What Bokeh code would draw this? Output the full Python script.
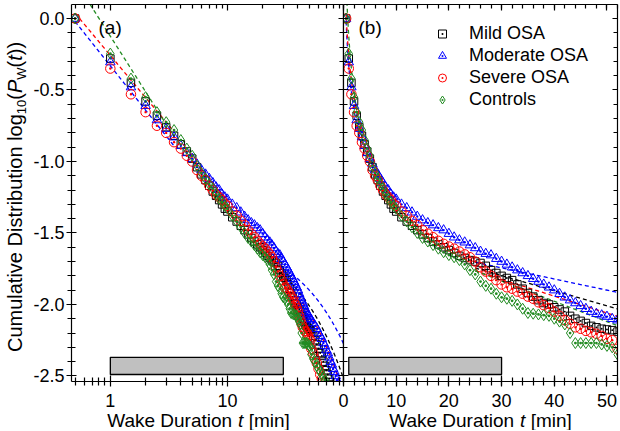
import numpy as np
from bokeh.plotting import figure
from bokeh.layouts import row, column
from bokeh.models import (Range1d, FixedTicker, LinearAxis, LogAxis, PrintfTickFormatter,
                          CustomJSTickFormatter, Label, Legend, LegendItem)
from bokeh.embed import file_html
from bokeh.resources import INLINE

FONT = "Liberation Sans"

# ---------------- data ----------------
t_common = [0.5, 1.0, 1.5, 2.0, 2.5, 3.0, 3.5, 4.0, 4.5, 5.0, 5.5, 6.0, 6.5, 7.0, 7.5, 8.0, 8.5, 9.0, 9.5, 10.0,
            11, 12, 13, 14, 15, 16, 17, 18, 19, 20, 21, 22, 23, 24, 25, 26, 27, 28, 29, 30,
            31, 32, 33, 34, 35, 36, 37, 38, 39, 40, 41, 42, 43, 44, 45, 46, 47, 48, 49, 50, 51, 52]

mild = [0.0, -0.28, -0.45, -0.58, -0.68, -0.76, -0.82, -0.88, -0.93, -0.98, -1.04, -1.09, -1.13, -1.17, -1.21,
        -1.24, -1.27, -1.30, -1.33, -1.35,
        -1.39, -1.42, -1.45, -1.48, -1.51, -1.535, -1.56, -1.58, -1.60, -1.62, -1.64, -1.66, -1.675, -1.69, -1.70,
        -1.71, -1.73, -1.76, -1.78, -1.80, -1.815, -1.83, -1.86, -1.89, -1.92, -1.945, -1.97, -1.99, -2.00, -2.02,
        -2.035, -2.05, -2.08, -2.10, -2.115, -2.13, -2.15, -2.16, -2.17, -2.175, -2.18, -2.19]
moderate = [0.0, -0.305, -0.48, -0.61, -0.71, -0.77, -0.83, -0.89, -0.94, -0.98, -1.02, -1.06, -1.09, -1.12, -1.15,
            -1.18, -1.20, -1.23, -1.25, -1.265,
            -1.30, -1.325, -1.355, -1.385, -1.41, -1.43, -1.445, -1.465, -1.48, -1.505, -1.53, -1.55, -1.565, -1.585,
            -1.605, -1.63, -1.645, -1.655, -1.68, -1.70, -1.72, -1.74, -1.76, -1.78, -1.80, -1.82, -1.84, -1.86, -1.88,
            -1.90, -1.925, -1.95, -1.97, -1.99, -2.01, -2.03, -2.05, -2.065, -2.075, -2.085, -2.10, -2.11]
severe = [0.0, -0.35, -0.53, -0.655, -0.75, -0.80, -0.865, -0.91, -0.96, -1.00, -1.06, -1.10, -1.13, -1.17, -1.20,
          -1.23, -1.25, -1.27, -1.296, -1.31,
          -1.35, -1.38, -1.415, -1.445, -1.48, -1.505, -1.53, -1.555, -1.576, -1.595, -1.61, -1.63, -1.65, -1.67,
          -1.70, -1.74, -1.77, -1.80, -1.83, -1.86, -1.88, -1.89, -1.91, -1.925, -1.945, -1.96, -1.985, -2.005,
          -2.025, -2.05, -2.08, -2.11, -2.135, -2.16, -2.17, -2.185, -2.195, -2.205, -2.22, -2.24, -2.25, -2.31]
controls = [0.0, -0.245, -0.42, -0.55, -0.655, -0.725, -0.78, -0.85, -0.91, -0.96, -1.03, -1.08, -1.12, -1.16, -1.19,
            -1.23, -1.26, -1.285, -1.31, -1.33,
            -1.38, -1.42, -1.46, -1.50, -1.535, -1.56, -1.585, -1.61, -1.635, -1.655, -1.67, -1.69, -1.72, -1.76,
            -1.79, -1.84, -1.87, -1.89, -1.925, -1.95, -1.96, -1.975, -2.00, -2.03, -2.06, -2.065, -2.07, -2.075,
            -2.08, -2.10, -2.12, -2.14, -2.20, -2.27, -2.27, -2.27, -2.27, -2.27, -2.28, -2.29, -2.30, -2.35]

mild_tail_t = [54, 56, 58, 60, 62, 64, 66, 68, 70, 72, 74, 76]
mild_tail = [-2.22, -2.25, -2.28, -2.31, -2.34, -2.36, -2.40, -2.43, -2.46, -2.49, -2.52, -2.56]
moderate_tail_t = [54, 56, 58, 60, 62, 64, 66, 68, 70, 72, 74, 76, 78, 80, 82, 84, 86, 88]
moderate_tail = [-2.13, -2.15, -2.17, -2.20, -2.22, -2.24, -2.27, -2.29, -2.32, -2.34, -2.37, -2.40, -2.42,
                 -2.45, -2.47, -2.50, -2.53, -2.56]
severe_tail_t = [54, 56, 58, 60, 62, 64, 66]
severe_tail = [-2.34, -2.38, -2.41, -2.45, -2.49, -2.52, -2.56]
controls_tail_t = [54, 56, 58, 60, 62, 64, 66, 68, 70]
controls_tail = [-2.38, -2.40, -2.43, -2.45, -2.47, -2.49, -2.51, -2.53, -2.56]

series_names = ["Mild OSA", "Moderate OSA", "Severe OSA", "Controls"]

# fitted lines (parameters)
pl_groups = ["Moderate OSA", "Severe OSA", "Controls"]
pl_intercept = [-0.331, -0.258, -0.124]
pl_exponent = [-1.03, -0.98, -1.29]
pl_t_span = [0.5, 3.5]
exp_groups = ["Mild OSA", "Moderate OSA", "Severe OSA", "Controls"]
exp_intercept = [-1.48, -1.51, -1.47, -1.41]
exp_rate = [-0.0106, -0.0078, -0.0118, -0.0142]
exp_t_span = [25, 100]

bar_t = [1, 30]
bar_y = [-2.49, -2.37]

y_major = [-2.5, -2.0, -1.5, -1.0, -0.5, 0.0]
y_minor = [round(-2.5 + 0.1 * i, 1) for i in range(26)]
xlog_major = [1, 10]
xlog_minor = [0.5, 0.6, 0.7, 0.8, 0.9, 2, 3, 4, 5, 6, 7, 8, 9, 20, 30, 40, 50, 60, 70, 80, 90]
xlin_major = [0, 10, 20, 30, 40, 50]
xlin_minor = list(range(0, 53, 2))

# ---------------- styling ----------------
colors = {"Mild OSA": "#000000", "Moderate OSA": "#0000ff", "Severe OSA": "#ff0000", "Controls": "#228b22"}
markers = {"Mild OSA": "square_dot", "Moderate OSA": "triangle_dot", "Severe OSA": "circle_dot",
           "Controls": "diamond_dot"}
msizes = {"Mild OSA": 7.5, "Moderate OSA": 9.5, "Severe OSA": 9.5, "Controls": 11}

values = {"Mild OSA": (t_common + mild_tail_t, mild + mild_tail),
          "Moderate OSA": (t_common + moderate_tail_t, moderate + moderate_tail),
          "Severe OSA": (t_common + severe_tail_t, severe + severe_tail),
          "Controls": (t_common + controls_tail_t, controls + controls_tail)}

YW = 30                       # width of the strip holding the y title
LB = 41                       # left border of panel (a)
FW_L, FW_R, FH = 272, 274, 377
TOP, BOT = 4, 40
PANEL_H = TOP + FH + BOT      # 421
XTOP = 405                    # page y where the x-title strip starts
XH = 25
TOTAL_H = XTOP + XH           # 430
BASE_FIX = 0.29               # Bokeh draws "alphabetic" labels this many em lower than the anchor
y_range = Range1d(-2.539, 0.098)

left = figure(x_axis_type="log", x_range=Range1d(0.466, 98), y_range=y_range,
              frame_width=FW_L, frame_height=FH, output_backend="svg", toolbar_location=None,
              min_border_left=LB, min_border_right=0, min_border_top=TOP, min_border_bottom=BOT)
right = figure(x_range=Range1d(0, 52), y_range=y_range,
               frame_width=FW_R, frame_height=FH, output_backend="svg", toolbar_location=None,
               min_border_left=8, min_border_right=2, min_border_top=TOP, min_border_bottom=BOT)
right.margin = (0, 0, 0, -8)

for p in (left, right):
    p.xgrid.visible = False
    p.ygrid.visible = False
    p.outline_line_color = None
    p.background_fill_color = "white"
right.border_fill_alpha = 0
left.border_fill_color = "white"

blank = CustomJSTickFormatter(code="return ''")


def style_axis(ax, labels=True, tin=6, tout=5, mtin=4, mtout=4):
    ax.axis_line_color = "black"
    ax.axis_line_width = 1.2
    ax.major_tick_line_color = "black"
    ax.minor_tick_line_color = "black"
    ax.major_tick_line_width = 1.2
    ax.minor_tick_line_width = 1.2
    ax.major_tick_in = tin
    ax.major_tick_out = tout
    ax.minor_tick_in = mtin
    ax.minor_tick_out = mtout
    if labels:
        ax.major_label_text_font = FONT
        ax.major_label_text_font_size = "18px"
        ax.major_label_text_color = "black"
        ax.major_label_standoff = 7
    else:
        ax.formatter = blank
        ax.major_label_text_font_size = "1px"
        ax.major_label_standoff = 0


ylog_ticker = FixedTicker(ticks=y_major, minor_ticks=y_minor)
xlog_ticker = FixedTicker(ticks=xlog_major, minor_ticks=xlog_minor)
xlin_ticker = FixedTicker(ticks=xlin_major, minor_ticks=xlin_minor)

# left panel axes
ax = left.xaxis[0]
ax.ticker = xlog_ticker
ax.formatter = PrintfTickFormatter(format="%d")
style_axis(ax)
ax = left.yaxis[0]
ax.ticker = ylog_ticker
ax.formatter = PrintfTickFormatter(format="%.1f")
style_axis(ax, tin=5, tout=5)
ax.major_label_standoff = 2
top_l = LogAxis(ticker=xlog_ticker)
style_axis(top_l, labels=False, tout=0, mtout=0)
left.add_layout(top_l, "above")
right_l = LinearAxis(ticker=ylog_ticker)
style_axis(right_l, labels=False, tin=5, tout=0, mtout=0)
left.add_layout(right_l, "right")

# right panel axes
ax = right.xaxis[0]
ax.ticker = xlin_ticker
ax.formatter = PrintfTickFormatter(format="%d")
style_axis(ax)
ax = right.yaxis[0]
ax.ticker = ylog_ticker
style_axis(ax, labels=False, tin=5, tout=0, mtout=0)
top_r = LinearAxis(ticker=xlin_ticker)
style_axis(top_r, labels=False, tout=0, mtout=0)
right.add_layout(top_r, "above")
right_r = LinearAxis(ticker=ylog_ticker)
style_axis(right_r, labels=False, tin=5, tout=0, mtout=0)
right.add_layout(right_r, "right")

# gray bars
for p in (left, right):
    p.quad(left=[bar_t[0]], right=[bar_t[1]], bottom=[bar_y[0]], top=[bar_y[1]],
           fill_color="#c0c0c0", line_color="black", line_width=1.3)

# fit lines
t_pl = np.geomspace(pl_t_span[0], pl_t_span[1], 150)
t_ex = np.linspace(exp_t_span[0], exp_t_span[1], 200)
for g, c, k in zip(pl_groups, pl_intercept, pl_exponent):
    for p in (left, right):
        p.line(t_pl, c + k * np.log10(t_pl), line_color=colors[g], line_dash="4 3", line_width=1.3)
for g, a, b in zip(exp_groups, exp_intercept, exp_rate):
    for p in (left, right):
        p.line(t_ex, a + b * t_ex, line_color=colors[g], line_dash="4 3", line_width=1.3)

# data markers
legend_items = []
for name in series_names:
    tx, ty = values[name]
    for p in (left, right):
        r = p.scatter(tx, ty, marker=markers[name], size=msizes[name], line_color=colors[name],
                      fill_color=None, line_width=1)
    legend_items.append(LegendItem(label=name, renderers=[r]))

legend = Legend(items=legend_items, location=(89, 271), orientation="vertical",
                glyph_width=20, glyph_height=21, label_height=21, label_standoff=17, spacing=1,
                padding=0, margin=0, border_line_color=None, background_fill_alpha=0,
                label_text_font=FONT, label_text_font_size="18px", label_text_color="black")
right.add_layout(legend)

# panel labels
left.add_layout(Label(x=27, y=348 + BASE_FIX * 19, x_units="screen", y_units="screen", text="(a)",
                      text_font=FONT, text_font_size="19px", text_color="black", text_baseline="alphabetic"))
right.add_layout(Label(x=15, y=348 + BASE_FIX * 19, x_units="screen", y_units="screen", text="(b)",
                       text_font=FONT, text_font_size="19px", text_color="black", text_baseline="alphabetic"))

# ---------------- title strips (rich text with sub-scripts / italics) ----------------
def strip(w, h, transparent=False):
    f = figure(frame_width=w, frame_height=h, x_range=Range1d(0, 1), y_range=Range1d(0, 1),
               x_axis_location=None, y_axis_location=None, output_backend="svg", toolbar_location=None,
               min_border=0)
    f.xgrid.visible = False
    f.ygrid.visible = False
    f.outline_line_color = None
    if transparent:
        f.background_fill_alpha = 0
        f.border_fill_alpha = 0
    else:
        f.background_fill_color = "white"
        f.border_fill_color = "white"
    return f


ADV = {' ': 278, '(': 333, ')': 333, '[': 278, ']': 278, '0': 556, '1': 556, 'A': 667, 'C': 722, 'D': 722,
       'P': 667, 'W': 944, 'a': 556, 'b': 556, 'e': 556, 'g': 556, 'i': 222, 'k': 500, 'l': 222, 'm': 833,
       'n': 556, 'o': 556, 'r': 333, 's': 500, 't': 278, 'u': 556, 'v': 500}


def tw(s, size):
    return sum(ADV[ch] for ch in s) * size / 1000.0


def add_rich(fig, segs, x0, y0, vertical):
    pos = 0.0
    for text, size, style, shift in segs:
        body = text.lstrip(" ")
        pos += tw(text[:len(text) - len(body)], size)     # leading blanks are collapsed by SVG
        fix = BASE_FIX * size
        if vertical:
            lab = Label(x=x0 + shift - fix, y=y0 + pos, angle=90, angle_units="deg")
        else:
            lab = Label(x=x0 + pos, y=y0 - shift + fix)
        lab.update(x_units="screen", y_units="screen", text=body, text_font=FONT,
                   text_font_size=f"{size}px", text_font_style=style, text_color="black",
                   text_align="left", text_baseline="alphabetic")
        fig.add_layout(lab)
        pos += tw(body, size)
    return pos


yfig = strip(YW, TOTAL_H)
ylab = [("Cumulative Distribution log", 20, "normal", 0), ("10", 13, "normal", 4.5), ("(", 20, "normal", 0),
        ("P", 20, "italic", 0), ("W", 13, "normal", 4.5), ("(", 20, "normal", 0), ("t", 20, "italic", 0),
        ("))", 20, "normal", 0)]
ylen = sum(tw(s, z) for s, z, _, _ in ylab)
y_center_from_bottom = TOTAL_H - 196.5
add_rich(yfig, ylab, 20, y_center_from_bottom - ylen / 2, True)

XW = LB + FW_L + FW_R + 2
xfig = strip(XW, XH, transparent=True)
xfig.margin = (XTOP - PANEL_H, 0, 0, 0)
xlab = [("Wake Duration ", 19, "normal", 0), ("t", 19, "italic", 0), (" [min]", 19, "normal", 0)]
xlen = sum(tw(s, z) for s, z, _, _ in xlab)
x_base = TOTAL_H - 426
add_rich(xfig, xlab, (198 - YW) - xlen / 2, x_base, False)
add_rich(xfig, xlab, (480 - YW) - xlen / 2, x_base, False)

layout = row(yfig, column(row(left, right), xfig))
open("out.html", "w").write(file_html(layout, INLINE))
